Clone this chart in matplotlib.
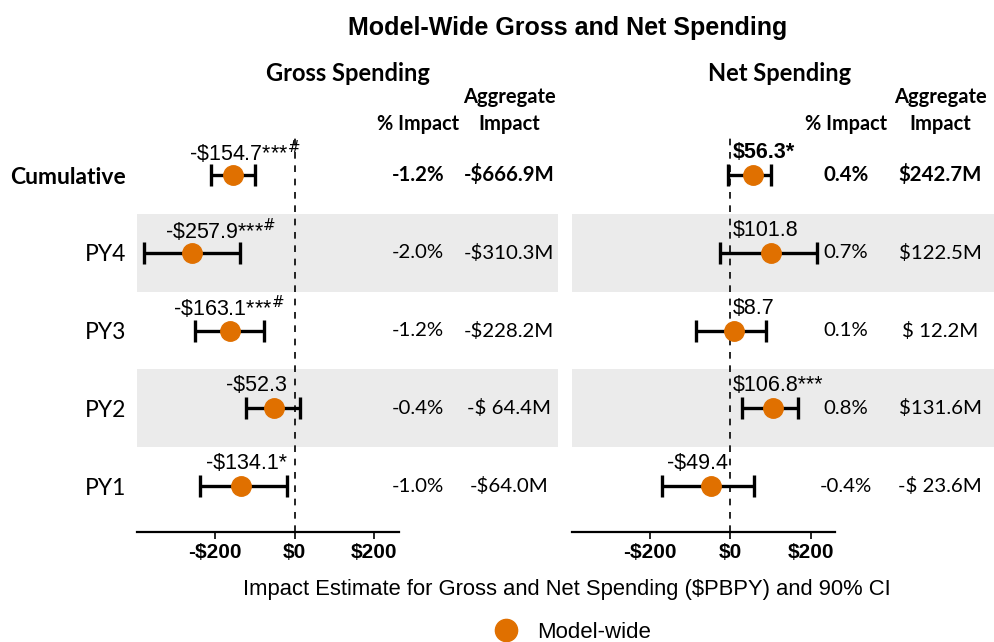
import numpy as np
import matplotlib
matplotlib.use("Agg")
import matplotlib.pyplot as plt
from matplotlib.lines import Line2D

# rows, bottom to top
rows = ["PY1", "PY2", "PY3", "PY4", "Cumulative"]

gross_est = [-134.1, -52.3, -163.1, -257.9, -154.7]
gross_lo = [-236, -121, -250, -377, -209]
gross_hi = [-20, 14, -76, -138, -99]
gross_lab = ["-\\$134.1*", "-\\$52.3", "-\\$163.1***$^{\\#}$", "-\\$257.9***$^{\\#}$", "-\\$154.7***$^{\\#}$"]
gross_lab_x = [-20, -20, -25, -45, 15]   # right edge of each label
gross_pct = ["-1.0%", "-0.4%", "-1.2%", "-2.0%", "-1.2%"]
gross_agg = ["-$64.0M", "-$ 64.4M", "-$228.2M", "-$310.3M", "-$666.9M"]

net_est = [-49.4, 106.8, 8.7, 101.8, 56.3]
net_lo = [-171, 30, -86, -25, -5]
net_hi = [58, 168, 90, 216, 101]
net_lab = ["-\\$49.4", "\\$106.8***", "\\$8.7", "\\$101.8", "\\$56.3*"]
net_pct = ["-0.4%", "0.8%", "0.1%", "0.7%", "0.4%"]
net_agg = ["-$ 23.6M", "$131.6M", "$ 12.2M", "$122.5M", "$242.7M"]

ORANGE = "#E07000"
SANS = "Liberation Sans"
CAL = "Lato"

fig = plt.figure(figsize=(9.95, 6.42), dpi=100)
axL = fig.add_axes([137 / 995, 110 / 642, 421 / 995, 399 / 642])
axR = fig.add_axes([572 / 995, 110 / 642, 423 / 995, 399 / 642])


def panel(ax, est, lo, hi, labs, lab_x, pct, agg, pct_xf, agg_xf, title, title_xf):
    y = np.arange(len(rows))
    for yy in (1, 3):
        ax.axhspan(yy - 0.5, yy + 0.5, color="#EBEBEB", lw=0, zorder=0)
    ax.axvline(0, ls=(0, (4, 4)), c="black", lw=1.2, zorder=1)
    est = np.array(est)
    err = [est - np.array(lo), np.array(hi) - est]
    ax.errorbar(est, y, xerr=err, fmt="none", ecolor="black", elinewidth=2.4,
                capsize=8, capthick=2.4, zorder=3)
    ax.plot(est, y, "o", ms=14, c=ORANGE, zorder=4)
    for i in range(len(rows)):
        bold = "bold" if rows[i] == "Cumulative" and lab_x is None else "normal"
        if lab_x is None:
            x0 = 6 if est[i] >= 0 else -6
            ha = "left" if est[i] >= 0 else "right"
        else:
            x0, ha = lab_x[i], "right"
        ax.text(x0, y[i] + 0.29, labs[i], ha=ha, va="center", fontsize=15.5,
                family=SANS, weight=bold, zorder=5)
        w = "bold" if rows[i] == "Cumulative" else "normal"
        ax.text(pct_xf, y[i], pct[i], transform=ax.get_yaxis_transform(),
                ha="center", va="center", fontsize=14.7, family=CAL, weight=w)
        ax.text(agg_xf, y[i], agg[i], transform=ax.get_yaxis_transform(),
                ha="center", va="center", fontsize=14.7, family=CAL, weight=w)
    ax.set_xlim(-395, 660)
    ax.set_ylim(-0.59, 4.54)
    for s in ("top", "right", "left"):
        ax.spines[s].set_visible(False)
    ax.spines["bottom"].set_bounds(-395, 262)
    ax.spines["bottom"].set_linewidth(1.6)
    ax.set_xticks([-200, 0, 200])
    ax.set_xticklabels(["-\\$200", "\\$0", "\\$200"], family=SANS, weight="bold", fontsize=15)
    ax.tick_params(axis="x", length=5, width=1.2, pad=3)
    ax.tick_params(axis="y", length=0)
    # headers
    ax.text(title_xf, 1.15, title, transform=ax.transAxes, ha="center", va="center",
            fontsize=17, family=CAL, weight="bold")
    ax.text(pct_xf, 0.998, "% Impact", transform=ax.transAxes, ha="center", va="bottom",
            fontsize=14.3, family=CAL, weight="bold")
    ax.text(agg_xf, 0.998, "Aggregate\nImpact", transform=ax.transAxes, ha="center",
            va="bottom", fontsize=14.5, family=CAL, weight="bold", linespacing=1.4)


panel(axL, gross_est, gross_lo, gross_hi, gross_lab, gross_lab_x, gross_pct, gross_agg,
      0.667, 0.884, "Gross Spending", 0.50)
panel(axR, net_est, net_lo, net_hi, net_lab, None, net_pct, net_agg,
      0.648, 0.870, "Net Spending", 0.49)

axL.set_yticks(np.arange(len(rows)))
axL.set_yticklabels(rows, family=CAL, fontsize=16.5)
axL.get_yticklabels()[-1].set_weight("bold")
axL.tick_params(axis="y", pad=8)
axR.set_yticks([])

fig.text(0.57, 1 - 28 / 642, "Model-Wide Gross and Net Spending", ha="center", va="center",
         fontsize=18, family=SANS, weight="bold")
fig.text(0.57, 1 - 590 / 642, "Impact Estimate for Gross and Net Spending (\\$PBPY) and 90% CI",
         ha="center", va="center", fontsize=15.8, family=SANS)
h = Line2D([], [], ls="none", marker="o", ms=16, c=ORANGE)
fig.legend(handles=[h], labels=["Model-wide"], loc="center", bbox_to_anchor=(0.57, 1 - 632 / 642),
           frameon=False, prop={"family": SANS, "size": 16}, handletextpad=0.4)

fig.savefig("out.png", dpi=100)
